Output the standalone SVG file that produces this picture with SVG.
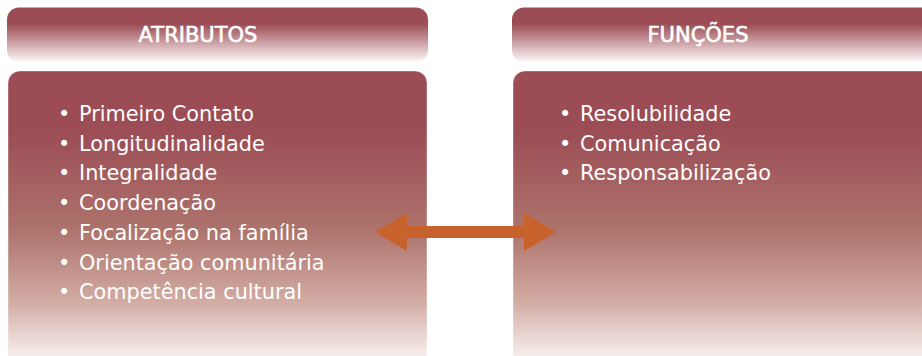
<svg xmlns="http://www.w3.org/2000/svg" width="922" height="356" viewBox="0 0 922 356">
  <defs>
    <linearGradient id="hdrGrad" x1="0" y1="0" x2="0" y2="1">
      <stop offset="0" stop-color="#9b4c54"/>
      <stop offset="0.3" stop-color="#9b4c54"/>
      <stop offset="1" stop-color="#fdf9f9"/>
    </linearGradient>
    <linearGradient id="bodyGrad" gradientUnits="userSpaceOnUse" x1="0" y1="71" x2="0" y2="360">
      <stop offset="0" stop-color="#9b4c54"/>
      <stop offset="0.2" stop-color="#9b4c54"/>
      <stop offset="0.55" stop-color="#ad736c"/>
      <stop offset="0.8" stop-color="#d2aca4"/>
      <stop offset="1" stop-color="#f9f2f1"/>
    </linearGradient>
    <style>
      .hdr { fill: url(#hdrGrad); }
      .body { fill: url(#bodyGrad); stroke: #ffffff; stroke-opacity: 0.4; stroke-width: 1; }
      .title { font-family: "DejaVu Sans", "Liberation Sans", sans-serif; font-size: 21px; fill: #ffffff; text-anchor: middle; stroke: #ffffff; stroke-width: 0.6; }
      .item { font-family: "DejaVu Sans", "Liberation Sans", sans-serif; font-size: 20.8px; fill: #ffffff; }
      .arrow { fill: #c7622d; }
    </style>
  </defs>

  <g id="atributos-header">
    <rect class="hdr" x="7" y="7.5" width="421" height="54.5" rx="12" ry="12"/>
    <text class="title" x="198" y="42">ATRIBUTOS</text>
  </g>

  <g id="funcoes-header">
    <rect class="hdr" x="512" y="7.5" width="424" height="54.5" rx="12" ry="12"/>
    <text class="title" x="698" y="42">FUNÇÕES</text>
  </g>

  <g id="atributos-body">
    <rect class="body" x="8" y="71" width="419" height="300" rx="12" ry="12"/>
    <text class="item"><tspan x="58" y="121">•</tspan><tspan x="79" y="121">Primeiro Contato</tspan></text>
    <text class="item"><tspan x="58" y="150.7">•</tspan><tspan x="79" y="150.7">Longitudinalidade</tspan></text>
    <text class="item"><tspan x="58" y="180.4">•</tspan><tspan x="79" y="180.4">Integralidade</tspan></text>
    <text class="item"><tspan x="58" y="210.1">•</tspan><tspan x="79" y="210.1">Coordenação</tspan></text>
    <text class="item"><tspan x="58" y="239.8">•</tspan><tspan x="79" y="239.8">Focalização na família</tspan></text>
    <text class="item"><tspan x="58" y="269.5">•</tspan><tspan x="79" y="269.5">Orientação comunitária</tspan></text>
    <text class="item"><tspan x="58" y="299.2">•</tspan><tspan x="79" y="299.2">Competência cultural</tspan></text>
  </g>

  <g id="funcoes-body">
    <rect class="body" x="513" y="71" width="424" height="300" rx="12" ry="12"/>
    <text class="item"><tspan x="559" y="121">•</tspan><tspan x="580" y="121">Resolubilidade</tspan></text>
    <text class="item"><tspan x="559" y="150.7">•</tspan><tspan x="580" y="150.7">Comunicação</tspan></text>
    <text class="item"><tspan x="559" y="180.4">•</tspan><tspan x="580" y="180.4">Responsabilização</tspan></text>
  </g>

  <g id="connectors">
    <polygon class="arrow" points="375,232 407,213 407,226 524,226 524,213 556,232 524,251 524,238 407,238 407,251"/>
  </g>
</svg>
